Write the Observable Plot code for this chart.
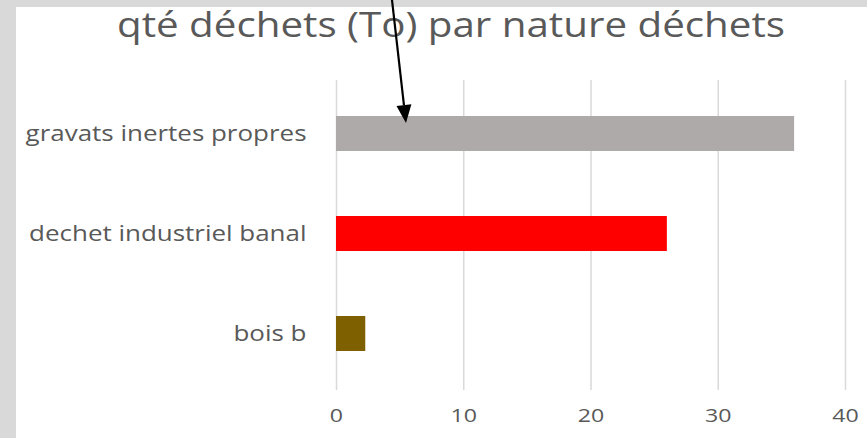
<!DOCTYPE html>
<html><head><meta charset="utf-8">
<script src="https://cdn.jsdelivr.net/npm/d3@7"></script>
<script src="https://cdn.jsdelivr.net/npm/@observablehq/plot@0.6"></script>
<style>
body{margin:0;background:#fff;}
#wrap{position:relative;width:867px;height:438px;overflow:hidden;background:#d9d9d9;}
#panel{position:absolute;left:16px;top:7px;width:851px;height:431px;background:#fff;}
#chart{position:absolute;left:0;top:0;}
#ov{position:absolute;left:0;top:0;pointer-events:none;}
</style></head>
<body>
<div id="wrap"><div id="panel"></div><div id="chart"></div><svg id="ov" width="867" height="438"></svg></div>
<script>
const titleText = "qté déchets (To) par nature déchets";
const categories = ["gravats inertes propres", "dechet industriel banal", "bois b"];
const values = [36, 26, 2.3];
const colors = ["#aeaaaa", "#ff0000", "#7f6000"];
const xTicks = [0, 10, 20, 30, 40];

const data = categories.map((c, i) => ({cat: c, value: values[i]}));
const font = "'Open Sans', sans-serif";

const plot = Plot.plot({
  width: 867,
  height: 438,
  marginTop: 80,
  marginBottom: 48,
  marginLeft: 336,
  marginRight: 22,
  style: {background: "transparent", fontFamily: font, color: "#595959"},
  x: {domain: [0, 40], label: null},
  y: {domain: categories, range: [83, 383], paddingInner: 0.65, paddingOuter: 0.325, label: null},
  color: {domain: categories, range: colors},
  marks: [
    Plot.gridX(xTicks, {stroke: "#d9d9d9", strokeOpacity: 1, strokeWidth: 1.5}),
    Plot.barX(data, {x: "value", y: "cat", fill: "cat"}),
    Plot.axisX({ticks: xTicks, tickSize: 0, tickPadding: 18, fontSize: 19, label: null, fill: "#595959"}),
    Plot.axisY({tickSize: 0, tickPadding: 30, fontSize: 22, label: null, fill: "#595959"})
  ]
});
document.getElementById("chart").appendChild(plot);

// the reference rendering is horizontally stretched; widen the tick labels to match
function stretch(sel, k) {
  sel.each(function () {
    const t = this.getAttribute("transform") || "";
    const x = +this.getAttribute("x") || 0;
    const y = +this.getAttribute("y") || 0;
    this.setAttribute("transform", `${t} translate(${x},${y}) scale(${k},1) translate(${-x},${-y})`);
  });
}
stretch(d3.select(plot).selectAll("g[aria-label='y-axis tick label'] text"), 1.18);
stretch(d3.select(plot).selectAll("g[aria-label='x-axis tick label'] text"), 1.22);

const xs = plot.scale("x"), ys = plot.scale("y");
const ov = d3.select("#ov");
ov.append("text")
  .attr("x", 451).attr("y", 37)
  .attr("text-anchor", "middle")
  .attr("font-family", font)
  .attr("font-size", 35)
  .attr("fill", "#595959")
  .attr("textLength", 668)
  .attr("lengthAdjust", "spacingAndGlyphs")
  .text(titleText);

// annotation arrow pointing at the first bar
const x1 = xs.apply(4.4), y1 = 0;
const x2 = xs.apply(5.5), y2 = ys.apply(categories[0]) + 7;
const dx = x2 - x1, dy = y2 - y1, len = Math.hypot(dx, dy);
const ux = dx / len, uy = dy / len;
const hl = 18, hw = 7.5;
const bx = x2 - ux * hl, by = y2 - uy * hl;
ov.append("line").attr("x1", x1).attr("y1", y1).attr("x2", bx).attr("y2", by)
  .attr("stroke", "#000").attr("stroke-width", 2.2);
ov.append("polygon")
  .attr("points", [[x2, y2], [bx - uy * hw, by + ux * hw], [bx + uy * hw, by - ux * hw]].map(p => p.join(",")).join(" "))
  .attr("fill", "#000");
</script>
</body></html>
